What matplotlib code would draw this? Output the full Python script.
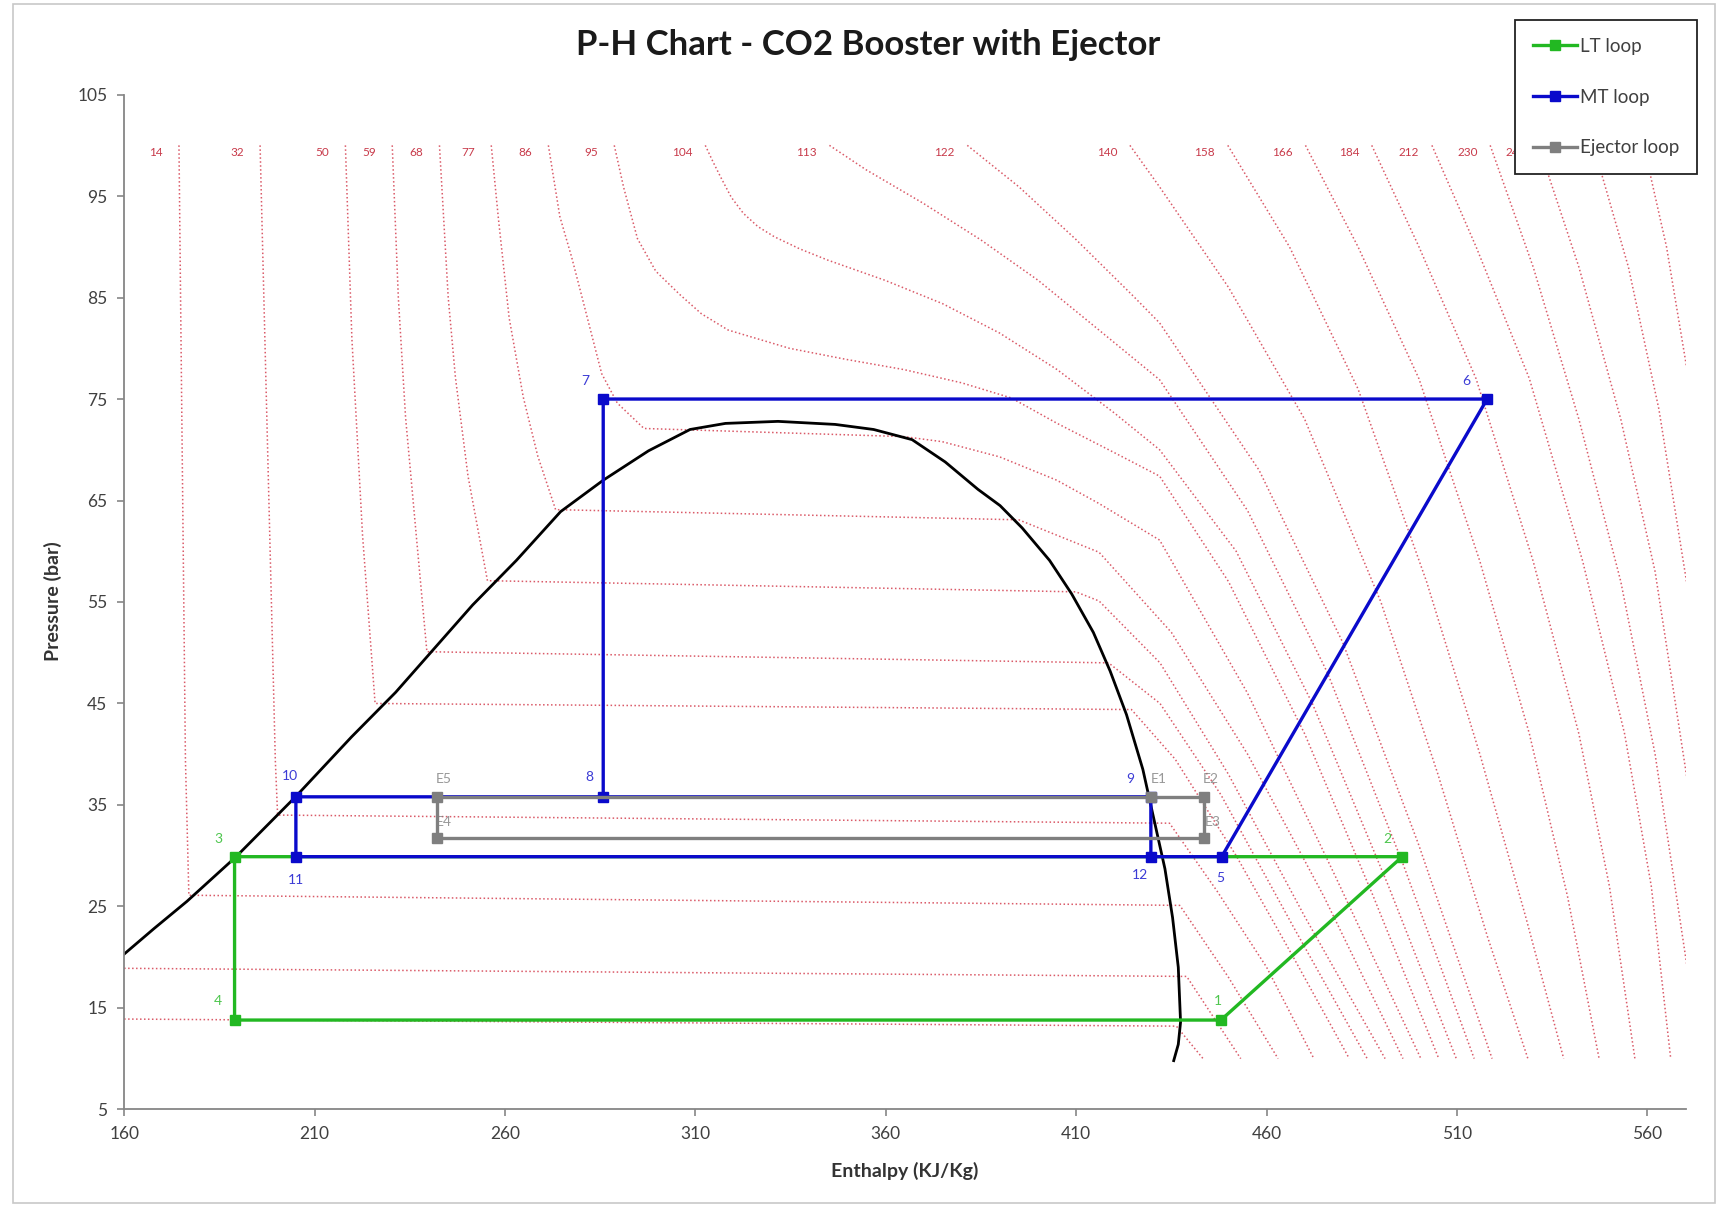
import matplotlib
matplotlib.use("Agg")
import matplotlib.pyplot as plt
from matplotlib.patches import Rectangle
from matplotlib.lines import Line2D

plt.rcParams['font.family'] = ['Lato', 'DejaVu Sans']

# ---------------- data ----------------
title = "P-H Chart - CO2 Booster with Ejector"
x_label = "Enthalpy (KJ/Kg)"
y_label = "Pressure (bar)"
x_ticks = [160, 210, 260, 310, 360, 410, 460, 510, 560]
y_ticks = [5, 15, 25, 35, 45, 55, 65, 75, 85, 95, 105]

# LT loop
lt_names = ["1", "2", "3", "4"]
lt_h = [448.0, 495.6, 189.0, 189.0]
lt_p = [13.8, 29.9, 29.9, 13.8]
lt_path = ["1", "2", "3", "4", "1"]

# MT loop
mt_names = ["5", "6", "7", "8", "9", "10", "11", "12"]
mt_h = [448.2, 517.9, 285.8, 285.8, 429.6, 205.1, 205.1, 429.6]
mt_p = [29.9, 75.0, 75.0, 35.8, 35.8, 35.8, 29.9, 29.9]
mt_path = ["12", "5", "6", "7", "8", "9", "12", "11", "10", "8"]

# Ejector loop
ej_names = ["E1", "E2", "E3", "E4", "E5"]
ej_h = [429.6, 443.6, 443.6, 242.2, 242.2]
ej_p = [35.8, 35.8, 31.7, 31.7, 35.8]
ej_path = ["E1", "E2", "E3", "E4", "E5", "E1"]

# saturation dome
dome_h = [160.0, 167.8, 176.5, 189.4, 205.0, 219.7, 231.3, 241.4, 251.5, 263.0, 274.6,
          285.8, 297.7, 308.6, 317.9, 331.7, 346.7, 356.8, 366.9, 375.6, 384.2, 390.0,
          395.8, 403.0, 408.8, 414.5, 418.9, 423.2, 427.5, 430.4, 433.3, 435.3, 436.8,
          437.4, 436.8, 435.6]
dome_p = [20.3, 22.8, 25.5, 29.9, 35.8, 41.7, 46.1, 50.4, 54.7, 59.1, 63.9,
          67.0, 69.9, 72.0, 72.6, 72.8, 72.5, 72.0, 71.0, 68.8, 66.1, 64.5,
          62.3, 59.1, 55.8, 52.0, 48.2, 43.9, 38.5, 33.6, 28.7, 23.9, 19.0,
          13.6, 11.4, 9.8]

# isotherms (label, h, P)
iso_m30 = (None, [160.0, 436.3, 443.3], [13.9, 13.2, 10.0])
iso_m20 = (None, [160.0, 439.0, 453.2], [18.9, 18.1, 10.0])
iso_m10 = ("14", [174.4, 176.1, 177.0, 437.2, 450.0, 463.0],
           [100.0, 39.4, 26.1, 25.1, 18.0, 10.0])
iso_0 = ("32", [195.7, 199.7, 200.3, 434.5, 447.0, 460.0, 472.4],
         [100.0, 39.4, 34.0, 33.2, 26.5, 19.0, 10.0])
iso_10 = ("50", [218.1, 219.8, 222.6, 225.9, 424.5, 436.0, 452.0, 467.0, 481.7],
          [100.0, 81.0, 61.6, 45.0, 44.4, 39.5, 30.0, 20.0, 10.0])
iso_15 = ("59", [230.4, 232.0, 233.9, 236.7, 239.5, 418.5, 432.0, 448.0, 467.0, 486.4],
          [100.0, 85.0, 73.2, 61.6, 50.1, 49.0, 45.0, 36.0, 23.0, 10.0])
iso_20 = ("68", [242.8, 245.1, 247.0, 250.3, 255.4, 409.9, 416.0, 432.0, 450.0, 470.0, 491.1],
          [100.0, 85.0, 77.1, 67.4, 57.1, 56.0, 55.1, 49.0, 38.0, 24.0, 10.0])
iso_25 = ("77", [256.4, 258.3, 261.1, 264.8, 268.6, 273.3, 394.9, 416.0, 435.0, 455.0, 475.0, 495.8],
          [100.0, 92.7, 83.0, 75.2, 69.4, 64.1, 63.1, 59.9, 52.0, 40.0, 26.0, 10.0])
iso_30 = ("86", [271.4, 274.4, 277.5, 280.4, 283.0, 285.4, 289.5, 296.5, 364.7, 374.8, 389.9,
                 404.9, 416.0, 431.9, 455.0, 478.0, 500.5],
          [100.0, 93.0, 89.0, 84.8, 81.0, 77.5, 74.6, 72.1, 71.3, 70.8, 69.3,
           67.0, 64.7, 61.1, 46.0, 28.0, 10.0])
iso_35 = ("95", [288.7, 291.2, 294.8, 299.6, 305.9, 311.6, 318.6, 334.7, 349.7, 364.8, 379.9,
                 393.0, 405.0, 420.1, 431.9, 450.0, 470.0, 488.0, 505.2],
          [100.0, 95.8, 90.8, 87.6, 85.3, 83.4, 81.8, 80.0, 78.9, 77.9, 76.6,
           75.1, 72.6, 69.7, 67.4, 57.0, 42.0, 26.0, 10.0])
iso_40 = ("104", [312.6, 314.6, 316.6, 319.4, 322.6, 326.4, 330.7, 337.4, 344.7, 359.8, 374.9,
                  389.9, 405.0, 420.1, 431.9, 452.0, 472.0, 492.0, 509.8],
          [100.0, 98.4, 96.9, 94.9, 93.3, 92.0, 91.0, 89.8, 88.7, 86.7, 84.4,
           81.5, 77.9, 73.6, 70.0, 60.0, 45.0, 27.0, 10.0])
iso_45 = ("113", [345.2, 354.8, 369.8, 384.9, 400.0, 415.0, 431.9, 455.0, 476.0, 496.0, 514.5],
          [100.0, 97.6, 94.3, 90.7, 86.7, 82.1, 76.9, 64.0, 48.0, 29.0, 10.0])
iso_50 = ("122", [381.4, 395.0, 410.0, 425.1, 431.9, 458.0, 480.0, 500.0, 519.2],
          [100.0, 95.9, 90.7, 85.1, 82.5, 68.0, 51.0, 31.0, 10.0])
iso_60 = ("140", [424.1, 431.9, 450.0, 470.0, 490.0, 505.0, 518.0, 528.6],
          [100.0, 95.9, 86.0, 73.0, 55.0, 38.0, 22.0, 10.0])
iso_70 = ("158", [449.8, 466.0, 484.0, 502.0, 516.0, 528.0, 538.0],
          [100.0, 90.0, 76.0, 57.0, 40.0, 24.0, 10.0])
iso_80 = ("166", [470.2, 484.0, 500.0, 516.0, 529.0, 539.0, 547.3],
          [100.0, 90.0, 77.0, 59.0, 42.0, 26.0, 10.0])
iso_90 = ("184", [487.6, 500.0, 515.0, 530.0, 542.0, 550.0, 556.7],
          [100.0, 90.0, 77.0, 59.0, 42.0, 27.0, 10.0])
iso_100 = ("212", [503.4, 515.0, 529.0, 543.0, 554.0, 561.0, 566.1],
           [100.0, 90.0, 77.0, 59.0, 42.0, 27.0, 10.0])
iso_110 = ("230", [518.7, 530.0, 542.0, 553.0, 562.0, 570.3],
           [100.0, 88.0, 73.0, 57.0, 40.0, 19.3])
iso_120 = ("248", [531.4, 542.0, 553.0, 562.0, 570.3],
           [100.0, 88.0, 73.0, 58.0, 37.8])
iso_130 = (None, [545.8, 555.0, 563.0, 570.3], [100.0, 88.0, 74.0, 56.9])
iso_140 = (None, [559.0, 565.0, 570.3], [100.0, 90.0, 78.1])

isotherms = [iso_m30, iso_m20, iso_m10, iso_0, iso_10, iso_15, iso_20, iso_25, iso_30,
             iso_35, iso_40, iso_45, iso_50, iso_60, iso_70, iso_80, iso_90, iso_100,
             iso_110, iso_120, iso_130, iso_140]

# ---------------- style ----------------
GREEN = "#22B822"
BLUE = "#0A0ACB"
GRAY = "#7F7F7F"
ISO_COLOR = "#DA5A68"
ISO_TEXT = "#C83A4A"
label_offsets = {
    "1": (-2, 14), "2": (-11, 13), "3": (-12, 13), "4": (-12, 14),
    "5": (-1, -15), "6": (-15, 13), "7": (-13, 13), "8": (-10, 14),
    "9": (-15, 13), "10": (-4, 15), "11": (0, -17), "12": (-8, -13),
    "E1": (6, 13), "E2": (5, 13), "E3": (6, 12), "E4": (5, 12), "E5": (5, 13),
}

fig = plt.figure(figsize=(17.24, 12.07), dpi=100)
fig.patches.append(Rectangle((0.0075, 0.003), 0.987, 0.994, transform=fig.transFigure,
                             fill=False, edgecolor="#C8C8C8", linewidth=1.2))
ax = fig.add_axes([0.0720, 0.0809, 0.9057, 0.8407])

# isotherms
for lab, hs, ps in isotherms:
    ax.plot(hs, ps, color=ISO_COLOR, linestyle=(0, (1, 1.6)), linewidth=1.1, zorder=1)
    if lab is not None:
        ax.annotate(lab, xy=(hs[0], ps[0]), xytext=(-16.5, -5), textcoords="offset points",
                    ha="center", va="center", fontsize=8.5, color=ISO_TEXT, zorder=1)

# dome
ax.plot(dome_h, dome_p, color="black", linewidth=2.0, zorder=2, solid_joinstyle="round")


def draw_loop(names, hs, ps, path, color, label, z):
    lookup = {n: (h, p) for n, h, p in zip(names, hs, ps)}
    xs = [lookup[n][0] for n in path]
    ys = [lookup[n][1] for n in path]
    ax.plot(xs, ys, color=color, linewidth=2.4, zorder=z, solid_capstyle="butt")
    ax.plot(hs, ps, linestyle="none", marker="s", markersize=7, color=color, zorder=z + 0.5)
    for n, h, p in zip(names, hs, ps):
        dx, dy = label_offsets[n]
        ax.annotate(n, xy=(h, p), xytext=(dx, dy), textcoords="offset points",
                    ha="center", va="center", fontsize=10, color=color, alpha=0.8, zorder=z + 1)
    return Line2D([0], [0], color=color, linewidth=2.4, marker="s", markersize=7, label=label)


h1 = draw_loop(lt_names, lt_h, lt_p, lt_path, GREEN, "LT loop", 3)
h2 = draw_loop(mt_names, mt_h, mt_p, mt_path, BLUE, "MT loop", 4)
h3 = draw_loop(ej_names, ej_h, ej_p, ej_path, GRAY, "Ejector loop", 5)

ax.set_xlim(160, 570)
ax.set_ylim(5, 105)
ax.set_xticks(x_ticks)
ax.set_yticks(y_ticks)
ax.tick_params(axis="both", labelsize=12.5, labelcolor="#404040", color="#868686",
               direction="out", length=5, width=1.2)
ax.tick_params(axis="x", pad=7)
ax.tick_params(axis="y", pad=7)
for s in ["top", "right"]:
    ax.spines[s].set_visible(False)
for s in ["left", "bottom"]:
    ax.spines[s].set_color("#868686")
    ax.spines[s].set_linewidth(1.3)

fig.text(0.5038, 0.9625, title, ha="center", va="center", fontsize=25, fontweight="bold",
         color="#1A1A1A")
fig.text(0.525, 0.0298, x_label, ha="center", va="center", fontsize=14, fontweight="bold",
         color="#333333")
fig.text(0.0306, 0.5018, y_label, ha="center", va="center", rotation=90, fontsize=14,
         fontweight="bold", color="#333333")

leg = ax.legend(handles=[h1, h2, h3], loc="upper right", bbox_to_anchor=(0.9843, 0.9834),
                bbox_transform=fig.transFigure, fontsize=13.5, frameon=True, fancybox=False,
                labelspacing=1.8, borderpad=0.95, handlelength=2.35, handletextpad=0.15,
                borderaxespad=0)
leg.get_frame().set_edgecolor("#222222")
leg.get_frame().set_linewidth(1.3)
leg.get_frame().set_alpha(1.0)
leg.set_zorder(20)
for t in leg.get_texts():
    t.set_color("#404040")

fig.savefig("out.png", dpi=100)
